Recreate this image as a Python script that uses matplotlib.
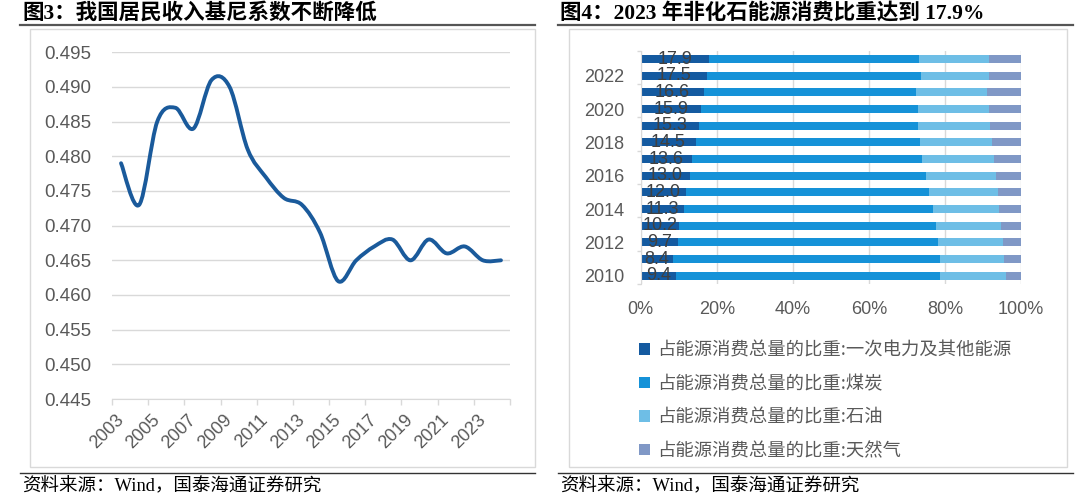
import matplotlib
matplotlib.use("Agg")
import matplotlib.pyplot as plt
from matplotlib.path import Path
from matplotlib.patches import PathPatch, Rectangle, Patch
from matplotlib.lines import Line2D

plt.rcParams['font.family'] = ['Liberation Sans', 'Noto Sans CJK SC']

# 图3 数据：基尼系数
gini_years = list(range(2003, 2025))
gini = [0.479, 0.473, 0.485, 0.487, 0.484, 0.491, 0.490, 0.481, 0.477, 0.474, 0.473,
        0.469, 0.462, 0.465, 0.467, 0.468, 0.465, 0.468, 0.466, 0.467, 0.465, 0.465]

# 图4 数据：能源消费结构 (%)
energy_years = list(range(2010, 2024))
primary = [9.4, 8.4, 9.7, 10.2, 11.3, 12.0, 13.0, 13.6, 14.5, 15.3, 15.9, 16.6, 17.5, 17.9]
coal = [69.2, 70.2, 68.5, 67.4, 65.6, 63.7, 62.0, 60.4, 59.0, 57.7, 56.9, 55.9, 56.2, 55.3]
oil = [17.4, 16.8, 17.0, 17.1, 17.4, 18.3, 18.5, 18.8, 18.9, 18.9, 18.8, 18.6, 17.9, 18.3]
gas = [4.0, 4.6, 4.8, 5.3, 5.7, 5.9, 6.5, 7.2, 7.6, 8.0, 8.4, 8.9, 8.4, 8.5]
series_names = ['占能源消费总量的比重:一次电力及其他能源', '占能源消费总量的比重:煤炭',
                '占能源消费总量的比重:石油', '占能源消费总量的比重:天然气']
colors = ['#145AA0', '#1592D8', '#6EBEE6', '#8098C6']

title_l = '图3：我国居民收入基尼系数不断降低'
title_r = '图4：2023 年非化石能源消费比重达到 17.9%'
source = '资料来源：Wind，国泰海通证券研究'

W, H = 1080, 500
fig = plt.figure(figsize=(W / 100, H / 100), dpi=100)
fig.patch.set_facecolor('white')


def fx(px):
    return px / W


def fy(py):
    return 1 - py / H


serif = ['Liberation Serif', 'Noto Sans CJK SC']
grey_txt = '#595959'

# 标题、分隔线、来源
for x0, x1, t in [(20, 535, title_l), (558, 1073, title_r)]:
    fig.text(fx(x0 + 2), fy(13), t, family=serif, fontweight='bold', fontsize=15.5,
             va='center', ha='left', color='black')
    fig.add_artist(Line2D([fx(x0), fx(x1)], [fy(25), fy(25)], color='#555555', lw=1.6))
    fig.add_artist(Line2D([fx(x0), fx(x1)], [fy(473), fy(473)], color='#333333', lw=1.0))
    fig.text(fx(x0 + 2), fy(487), source, family=serif, fontsize=13.3, va='center', ha='left')

# 图框
fig.add_artist(Rectangle((fx(30), fy(467)), fx(535 - 30), (467 - 29) / H, fill=False,
                         edgecolor='#d9d9d9', lw=1.0))
fig.add_artist(Rectangle((fx(569), fy(467)), fx(1067 - 569), (467 - 29) / H, fill=False,
                         edgecolor='#d9d9d9', lw=1.0))

# ---------- 左图 ----------
ax1 = fig.add_axes([fx(112), fy(399), fx(398), 346.7 / H])
ax1.set_xlim(2002.5, 2024.5)
ax1.set_ylim(0.445, 0.495)

# 平滑曲线（类似 Excel 平滑线）
pts = list(zip(gini_years, gini))
verts = [pts[0]]
codes = [Path.MOVETO]
n = len(pts)
for i in range(n - 1):
    p0 = pts[i - 1] if i > 0 else pts[i]
    p1 = pts[i]
    p2 = pts[i + 1]
    p3 = pts[i + 2] if i + 2 < n else pts[i + 1]
    c1 = (p1[0] + (p2[0] - p0[0]) / 6, p1[1] + (p2[1] - p0[1]) / 6)
    c2 = (p2[0] - (p3[0] - p1[0]) / 6, p2[1] - (p3[1] - p1[1]) / 6)
    verts += [c1, c2, p2]
    codes += [Path.CURVE4] * 3
ax1.add_patch(PathPatch(Path(verts, codes), fill=False, edgecolor='#1A5A9B', lw=2.8,
                        capstyle='round', joinstyle='round', clip_on=False))

yt = [0.445 + 0.005 * k for k in range(11)]
ax1.set_yticks(yt)
ax1.set_yticklabels(['%.3f' % v for v in yt])
ax1.grid(axis='y', color='#d9d9d9', lw=1.0)
ax1.set_axisbelow(True)
ax1.set_xticks(list(range(2003, 2024, 2)))
ax1.set_xticklabels([str(y) for y in range(2003, 2024, 2)], rotation=45, ha='right',
                    rotation_mode='anchor', va='center')
ax1.set_xticks([2002.5 + 2 * k for k in range(12)], minor=True)
ax1.tick_params(axis='x', which='major', length=0, pad=13, labelsize=13, colors=grey_txt)
ax1.tick_params(axis='x', which='minor', length=4, color='#d9d9d9', width=1)
ax1.tick_params(axis='y', length=0, pad=15, labelsize=13.5, colors=grey_txt)
for s in ['top', 'right', 'left']:
    ax1.spines[s].set_visible(False)
ax1.spines['bottom'].set_color('#d9d9d9')

# ---------- 右图 ----------
ax2 = fig.add_axes([fx(640.7), fy(284), fx(380.3), (284 - 50.7) / H])
ax2.set_xlim(0, 100)
ax2.set_ylim(2009.5, 2023.5)
left = [0.0] * len(energy_years)
bh = 0.48
conts = []
for vals, c in zip([primary, coal, oil, gas], colors):
    cont = ax2.barh(energy_years, vals, left=left, height=bh, color=c, edgecolor='none')
    conts.append(cont)
    left = [a + b for a, b in zip(left, vals)]
ax2.bar_label(conts[0], labels=['%.1f' % v for v in primary], label_type='center',
              fontsize=13, color='#404040')

ax2.set_xticks([0, 20, 40, 60, 80, 100])
ax2.set_xticklabels(['0%', '20%', '40%', '60%', '80%', '100%'])
ax2.grid(axis='x', color='#d9d9d9', lw=1.0)
ax2.set_axisbelow(True)
ax2.set_yticks(list(range(2010, 2023, 2)))
ax2.set_yticklabels([str(y) for y in range(2010, 2023, 2)])
ax2.set_yticks([2009.5 + 2 * k for k in range(8)], minor=True)
ax2.tick_params(axis='y', which='major', length=0, pad=12, labelsize=13, colors=grey_txt)
ax2.tick_params(axis='y', which='minor', length=3, color='#d9d9d9', width=1)
ax2.tick_params(axis='x', length=0, pad=12, labelsize=13, colors=grey_txt)
for s in ['top', 'right', 'bottom']:
    ax2.spines[s].set_visible(False)
ax2.spines['left'].set_color('#d9d9d9')

handles = [Patch(facecolor=c, edgecolor='none') for c in colors]
leg = fig.legend(handles, series_names, loc='upper left',
                 bbox_to_anchor=(fx(632), fy(334)), frameon=False,
                 prop={'family': 'Noto Sans CJK SC', 'size': 13.2},
                 handlelength=0.6, handleheight=0.6, handletextpad=0.35,
                 labelspacing=0.85, borderaxespad=0)
for t in leg.get_texts():
    t.set_color(grey_txt)

fig.savefig('out.png', dpi=100, facecolor='white')
